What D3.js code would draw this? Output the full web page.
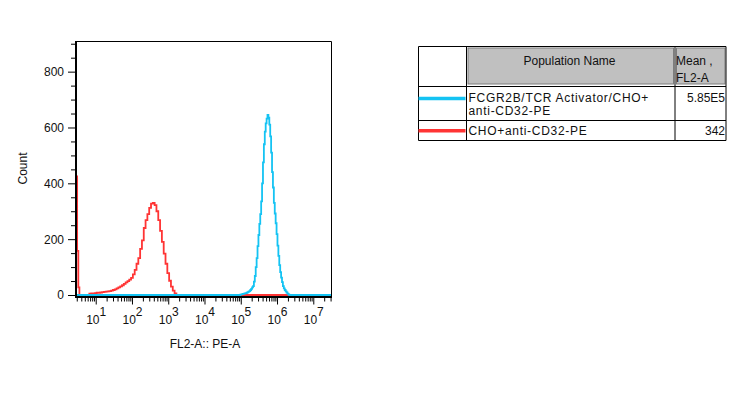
<!DOCTYPE html>
<html>
<head>
<meta charset="utf-8">
<script src="https://cdn.jsdelivr.net/npm/d3@7"></script>
<style>
  body { margin: 0; background: #fff; }
  svg { display: block; }
  text { font-family: "Liberation Sans", Arial, sans-serif; font-size: 12px; fill: #111; }
</style>
</head>
<body>
<div id="chart"></div>
<script>
// FL2-A histogram overlay (FlowJo style)

// bin positions are log10(FL2-A), counts are events per bin
const redLog = [0.47, 0.505, 0.535, 0.565, 0.8, 0.85, 0.9, 0.95, 1.0, 1.05, 1.1, 1.15, 1.2, 1.25,
    1.3, 1.35, 1.4, 1.45, 1.5, 1.55, 1.6, 1.65, 1.7, 1.75, 1.8, 1.85, 1.9, 1.95, 2.0, 2.05, 2.1,
    2.15, 2.2, 2.25, 2.3, 2.35, 2.4, 2.45, 2.5, 2.55, 2.6, 2.65, 2.7, 2.75, 2.8, 2.85, 2.9, 2.95,
    3.0, 3.05, 3.1, 3.15, 3.2, 3.25, 7.5];
const redCount = [425, 158, 27, 0, 0, 5, 6, 6, 7, 8, 8, 9, 10, 11,
    12, 13, 14, 16, 18, 20, 24, 27, 31, 35, 40, 45, 50, 55, 61, 74, 90,
    112, 132, 165, 196, 240, 268, 290, 312, 327, 330, 322, 300, 268, 230, 190, 148, 112,
    78, 51, 30, 16, 6, 0, 0];

const blueLog = [0.46, 4.975, 5.0, 5.025, 5.05, 5.075, 5.1, 5.125, 5.15, 5.175, 5.2, 5.225, 5.25,
    5.275, 5.3, 5.325, 5.35, 5.375, 5.4, 5.425, 5.45, 5.475, 5.5, 5.525, 5.55, 5.575, 5.6, 5.625,
    5.65, 5.675, 5.7, 5.725, 5.75, 5.775, 5.8, 5.825, 5.85, 5.875, 5.9, 5.925, 5.95, 5.975, 6.0,
    6.025, 6.05, 6.075, 6.1, 6.125, 6.15, 6.175, 6.2, 6.225, 6.25, 6.275, 6.3, 6.325, 6.35, 7.5];
const blueCount = [0, 0, 1, 2, 3, 4, 5, 6, 7, 8, 10, 12, 14,
    18, 22, 27, 32, 48, 68, 100, 132, 175, 215, 255, 290, 335, 400, 475,
    540, 585, 615, 632, 645, 635, 610, 568, 510, 440, 385, 330, 292, 257, 218,
    177, 140, 107, 82, 62, 46, 32, 24, 18, 13, 9, 5, 2, 0, 0];

const xMajor = [1e1, 1e2, 1e3, 1e4, 1e5, 1e6, 1e7];
const yMajor = [0, 200, 400, 600, 800];

const legendNames = [['FCGR2B/TCR Activator/CHO+', 'anti-CD32-PE'], ['CHO+anti-CD32-PE']];
const legendMeans = ['5.85E5', '342'];
const legendColors = ['#14c3f3', '#ff3434'];

const W = 745, H = 394;
const plot = { left: 76, right: 331.5, top: 41.5, zero: 295 };

const svg = d3.select('#chart').append('svg')
    .attr('width', W).attr('height', H);

const x = d3.scaleLog().domain([2.86, 3.18e7]).range([plot.left, plot.right]);
const y = d3.scaleLinear().domain([0, 908]).range([plot.zero, plot.top]);

// minor ticks: 2..9 in every decade inside the domain
const xMinor = [];
for (let k = 0; k < 8; k++) {
    for (let m = 2; m <= 9; m++) {
        const v = m * Math.pow(10, k);
        if (v >= x.domain()[0] && v <= x.domain()[1]) xMinor.push(v);
    }
}
const yMinor = d3.range(0, 901, 50).filter(v => v % 200 !== 0);

// histograms
const line = d3.line()
    .x(d => x(Math.pow(10, d[0])))
    .y(d => y(d[1]))
    .curve(d3.curveStep);

const series = [
    { pts: d3.zip(redLog, redCount), color: legendColors[1] },
    { pts: d3.zip(blueLog, blueCount), color: legendColors[0] }
];

svg.append('g').selectAll('path')
    .data(series)
    .join('path')
    .attr('d', d => line(d.pts))
    .attr('fill', 'none')
    .attr('stroke', d => d.color)
    .attr('stroke-width', 1.8);

// frame
svg.append('path')
    .attr('d', `M${plot.left},${plot.top}H${plot.right}V297`)
    .attr('fill', 'none').attr('stroke', '#000').attr('stroke-width', 1);
svg.append('path')
    .attr('d', `M${plot.left},41V297H${plot.right + 0.5}`)
    .attr('fill', 'none').attr('stroke', '#000').attr('stroke-width', 2);

// x axis
const xAxisG = svg.append('g').attr('transform', 'translate(0,298)').attr('color', '#000');
xAxisG.call(d3.axisBottom(x).tickValues(xMinor).tickSize(3.5).tickFormat(() => ''));
const xMaj = svg.append('g').attr('transform', 'translate(0,298)').attr('color', '#000');
xMaj.call(d3.axisBottom(x).tickValues(xMajor).tickSize(6.5).tickFormat(() => ''));
svg.selectAll('.domain').remove();

xMaj.selectAll('.tick text')
    .attr('y', 26.3)
    .attr('dy', null)
    .style('font-size', '12px')
    .each(function (d) {
        const t = d3.select(this);
        t.text(null);
        t.append('tspan').text('10');
        t.append('tspan').attr('dy', -8.3).text(Math.round(Math.log10(d)));
    });

// y axis
const yMin = svg.append('g').attr('transform', `translate(${plot.left - 1},0)`).attr('color', '#000');
yMin.call(d3.axisLeft(y).tickValues(yMinor).tickSize(4).tickFormat(() => ''));
const yMaj = svg.append('g').attr('transform', `translate(${plot.left - 1},0)`).attr('color', '#000');
yMaj.call(d3.axisLeft(y).tickValues(yMajor).tickSize(7).tickPadding(4).tickFormat(d3.format('d')));
yMaj.selectAll('.tick text').style('font-size', '12px');
svg.selectAll('.domain').remove();

// axis titles
svg.append('text')
    .attr('transform', 'translate(26.5,168.5) rotate(-90)')
    .attr('text-anchor', 'middle')
    .text('Count');
svg.append('text')
    .attr('x', 205).attr('y', 348.3)
    .attr('text-anchor', 'middle')
    .text('FL2-A:: PE-A');

// legend table
const tb = { left: 418.5, c1: 466.5, c2: 675, right: 726, top: 46.5, head: 86.5, r1: 120.5, bottom: 140.5 };
const leg = svg.append('g');

leg.append('rect').attr('x', tb.c1 + 1.5).attr('y', tb.top + 1.5)
    .attr('width', tb.c2 - tb.c1 - 3).attr('height', tb.head - tb.top - 4)
    .attr('fill', '#c0c0c0').attr('stroke', '#7d7d7d').attr('stroke-width', 1);
leg.append('rect').attr('x', tb.c2 + 1.5).attr('y', tb.top + 1.5)
    .attr('width', tb.right - tb.c2 - 2.5).attr('height', tb.head - tb.top - 4)
    .attr('fill', '#c0c0c0').attr('stroke', '#7d7d7d').attr('stroke-width', 1);

const grid = [
    [tb.left, tb.top, tb.right, tb.top], [tb.left, tb.head, tb.right, tb.head],
    [tb.left, tb.r1, tb.right, tb.r1], [tb.left, tb.bottom, tb.right, tb.bottom],
    [tb.left, tb.top, tb.left, tb.bottom], [tb.c1, tb.top, tb.c1, tb.bottom],
    [tb.c2, tb.top, tb.c2, tb.bottom], [tb.right, tb.top, tb.right, tb.bottom]
];
leg.selectAll('line.grid').data(grid).join('line')
    .attr('class', 'grid')
    .attr('x1', d => d[0]).attr('y1', d => d[1]).attr('x2', d => d[2]).attr('y2', d => d[3])
    .attr('stroke', '#000').attr('stroke-width', 1);

leg.append('text').attr('x', 569.5).attr('y', 64.5).attr('text-anchor', 'middle').text('Population Name');
leg.append('text').attr('x', 676).attr('y', 64.5).text('Mean ,');
leg.append('text').attr('x', 676).attr('y', 82).text('FL2-A');

const rowLine = [98.5, 130.7];
const rowBase = [102, 134.5];
legendNames.forEach((lines, i) => {
    leg.append('line')
        .attr('x1', tb.left).attr('x2', tb.c1 - 1)
        .attr('y1', rowLine[i]).attr('y2', rowLine[i])
        .attr('stroke', legendColors[i]).attr('stroke-width', 3.5);
    lines.forEach((s, j) => {
        leg.append('text').attr('x', 468.5).attr('y', rowBase[i] + j * 12.5)
            .style('letter-spacing', '0.7px')
            .text(s);
    });
    leg.append('text').attr('x', 725).attr('y', rowBase[i])
        .attr('text-anchor', 'end').text(legendMeans[i]);
});
</script>
</body>
</html>
